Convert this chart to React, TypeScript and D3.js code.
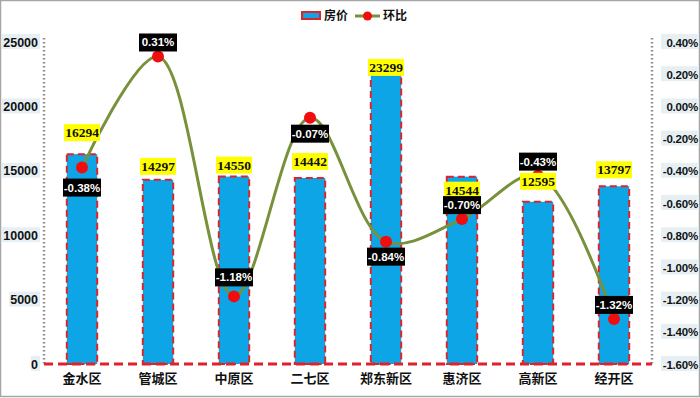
import React from "react";
import * as d3 from "d3";

const categories = ["金水区", "管城区", "中原区", "二七区", "郑东新区", "惠济区", "高新区", "经开区"];
const prices = [16294, 14297, 14550, 14442, 23299, 14544, 12595, 13797];
const changes = [-0.38, 0.31, -1.18, -0.07, -0.84, -0.7, -0.43, -1.32];
const leftTicks = [0, 5000, 10000, 15000, 20000, 25000];
const rightTicks = [0.4, 0.2, 0, -0.2, -0.4, -0.6, -0.8, -1.0, -1.2, -1.4, -1.6];
// label placement: gap between bar top and bottom of its label; offset of change label from its dot
const barLabelGap = [13, 5, 3, 8, -12, -22, 12, 8];
const changeLabelOffset = [20, -14, -19, 16, 15, -14, -14, -14];

const W = 700, H = 398;
const left = 44, right = 652, top = 42, bottom = 364;

export default function App() {
  const x = d3.scaleBand<string>().domain(categories).range([left, right]).paddingInner(0.6).paddingOuter(0.3);
  const y = d3.scaleLinear().domain([0, 25000]).range([bottom, top]);
  const y2 = d3.scaleLinear().domain([-1.6, 0.4]).range([bottom, top]);
  const cx = (c: string) => (x(c) as number) + x.bandwidth() / 2;
  const pts: [number, number][] = categories.map((c, i) => [cx(c), y2(changes[i])]);
  const line = d3.line().curve(d3.curveCatmullRom.alpha(0.5))(pts) as string;
  const sans = "'Liberation Sans', Arial, sans-serif";
  const serif = "'Liberation Serif', 'Times New Roman', serif";
  const cjk = "'Noto Sans CJK SC', sans-serif";
  return (
    <svg width={W} height={H} style={{ position: "absolute", left: 0, top: 0, background: "#fff" }}>
      <rect x={0.5} y={0.5} width={W - 1} height={H - 2} fill="#fff" stroke="#a6a6a6" strokeWidth={1.5} />
      {/* axes */}
      <line x1={left} x2={left} y1={top - 4} y2={bottom} stroke="#8c8c8c" strokeWidth={2.5} strokeDasharray="1.5 2.5" />
      <line x1={right} x2={right} y1={top - 4} y2={bottom} stroke="#8c8c8c" strokeWidth={2.5} strokeDasharray="1.5 2.5" />
      {leftTicks.map((t) => {
        const s = String(t);
        const w = s.length * 7.2;
        return (
          <g key={t}>
            <rect x={38 - w} y={y(t) - 8} width={w + 2} height={15} fill="#e6f0f4" />
            <text x={38} y={y(t) + 4.5} textAnchor="end" fontFamily={sans} fontWeight="bold" fontSize={12.5} fill="#111">{s}</text>
          </g>
        );
      })}
      {rightTicks.map((t) => {
        const s = t.toFixed(2) + "%";
        return (
          <g key={t}>
            <rect x={661} y={y2(t) - 8} width={38} height={15} fill="#e6f0f4" />
            <text x={698} y={y2(t) + 4.5} textAnchor="end" fontFamily={sans} fontWeight="bold" fontSize={11.5} letterSpacing={-0.2} fill="#111">{s}</text>
          </g>
        );
      })}
      {/* bars */}
      {categories.map((c, i) => (
        <rect key={c} x={x(c)} y={y(prices[i])} width={x.bandwidth()} height={bottom - y(prices[i])}
          fill="#0ea5e6" stroke="#d9262c" strokeWidth={2} strokeDasharray="7 4" />
      ))}
      <line x1={left} x2={right} y1={bottom} y2={bottom} stroke="#e0202a" strokeWidth={3} strokeDasharray="9 5" />
      {categories.map((c) => (
        <text key={c} x={cx(c)} y={383} textAnchor="middle" fontFamily={cjk} fontWeight="bold" fontSize={13} fill="#111">{c}</text>
      ))}
      {/* line */}
      <path d={line} fill="none" stroke="#77923a" strokeWidth={3} />
      {pts.map((p, i) => (
        <circle key={i} cx={p[0]} cy={p[1]} r={6} fill="#f00d0d" />
      ))}
      {/* bar labels */}
      {categories.map((c, i) => {
        const b = y(prices[i]) - barLabelGap[i];
        return (
          <g key={c}>
            <rect x={cx(c) - 18} y={b - 17} width={36} height={17} fill="#ffff00" />
            <text x={cx(c)} y={b - 4} textAnchor="middle" fontFamily={serif} fontWeight="bold" fontSize={13.5} fill="#111">{prices[i]}</text>
          </g>
        );
      })}
      {/* change labels */}
      {categories.map((c, i) => {
        const p = pts[i];
        const cy = p[1] + changeLabelOffset[i];
        return (
          <g key={c}>
            <rect x={p[0] - 19} y={cy - 9} width={38} height={18} fill="#000" />
            <text x={p[0]} y={cy + 4} textAnchor="middle" fontFamily={sans} fontWeight="bold" fontSize={11.5} fill="#fff">{changes[i].toFixed(2) + "%"}</text>
          </g>
        );
      })}
      {/* legend */}
      <rect x={302} y={12} width={18} height={7} fill="#0ea5e6" stroke="#d9262c" strokeWidth={2} />
      <text x={324} y={20} fontFamily={cjk} fontWeight="bold" fontSize={12} fill="#111">房价</text>
      <line x1={355} x2={380} y1={16} y2={16} stroke="#77923a" strokeWidth={3} />
      <circle cx={367.5} cy={16} r={4.5} fill="#f00d0d" />
      <text x={383} y={20} fontFamily={cjk} fontWeight="bold" fontSize={12} fill="#111">环比</text>
    </svg>
  );
}
